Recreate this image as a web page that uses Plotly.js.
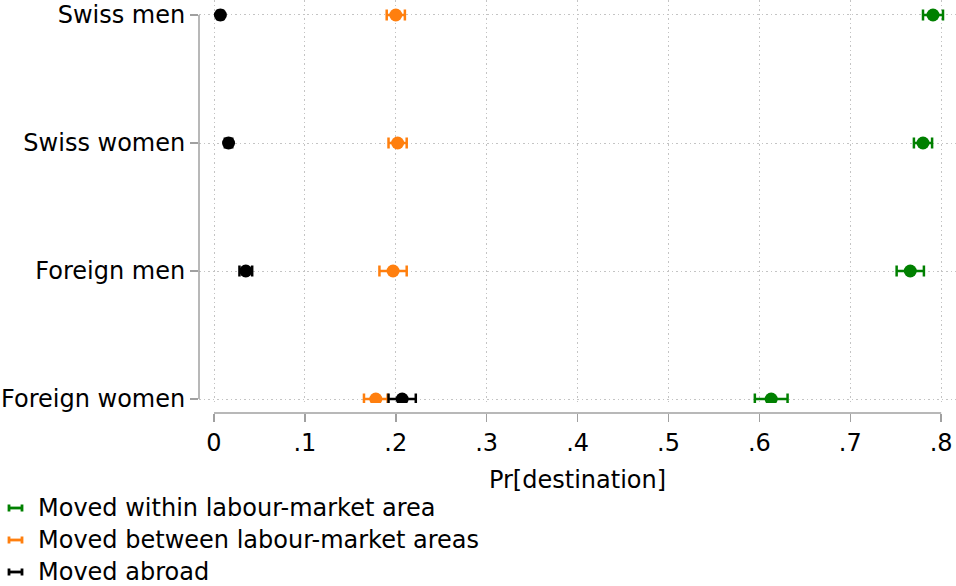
<!DOCTYPE html>
<html>
<head>
<meta charset="utf-8">
<script src="https://cdn.plot.ly/plotly-3.0.1.min.js"></script>
<style>
  html, body { margin: 0; padding: 0; background: #ffffff; }
  #chart { width: 956px; height: 586px; }
</style>
</head>
<body>
<div id="chart"></div>
<script>
// Groups, top to bottom
const groups = ['Swiss men', 'Swiss women', 'Foreign men', 'Foreign women'];

// Predicted probability of each destination, with half-width of the confidence interval
const withinMean  = [0.791, 0.780, 0.766, 0.613];
const withinErr   = [0.011, 0.010, 0.015, 0.018];
const betweenMean = [0.200, 0.202, 0.197, 0.178];
const betweenErr  = [0.010, 0.010, 0.015, 0.013];
const abroadMean  = [0.007, 0.016, 0.035, 0.207];
const abroadErr   = [0.003, 0.004, 0.007, 0.015];

// x-axis ticks
const xTickVals = [0, 0.1, 0.2, 0.3, 0.4, 0.5, 0.6, 0.7, 0.8];
const xTickText = ['0', '.1', '.2', '.3', '.4', '.5', '.6', '.7', '.8'];

// Series names and colours
const seriesNames = ['Moved within labour-market area', 'Moved between labour-market areas', 'Moved abroad'];
const seriesColors = ['#008000', '#ff7f0e', '#000000'];

const FONT = 'DejaVu Sans, Verdana, sans-serif';
const FSIZE = 24;
const AXIS_GREY = '#a0a0a0';
const GRID_GREY = '#c4c4c4';

// Page geometry (pixels) used to place the hand-built legend
const W = 956, H = 586;
const M = { l: 199, r: 0, t: 0, b: 173 };
const plotW = W - M.l - M.r, plotH = H - M.t - M.b;
const px2x = px => (px - M.l) / plotW;
const px2y = py => (M.t + plotH - py) / plotH;

function seriesTrace(means, errs, idx) {
  return {
    type: 'scatter',
    mode: 'markers',
    x: means,
    y: groups,
    name: seriesNames[idx],
    showlegend: false,
    marker: { color: seriesColors[idx], size: 13, line: { width: 0 } },
    error_x: {
      type: 'data', symmetric: true, array: errs,
      color: seriesColors[idx], thickness: 2.5, width: 5.5
    },
    hoverinfo: 'x+y+name'
  };
}

const traces = [
  seriesTrace(withinMean, withinErr, 0),
  seriesTrace(betweenMean, betweenErr, 1),
  seriesTrace(abroadMean, abroadErr, 2)
];

// Axis lines spanning only the tick range
const shapes = [
  { type: 'line', xref: 'x', yref: 'paper',
    x0: xTickVals[0], x1: xTickVals[xTickVals.length - 1], y0: 0, y1: 0,
    line: { color: AXIS_GREY, width: 1.5 } },
  { type: 'line', xref: 'paper', yref: 'y',
    x0: 0, x1: 0, y0: 0, y1: groups.length - 1,
    line: { color: AXIS_GREY, width: 1.5 } }
];

// Legend: small capped error-bar glyph plus label, one row per series
const annotations = [];
const legendRowY = [508, 540, 572];
seriesNames.forEach((nm, i) => {
  const cy = legendRowY[i];
  const col = seriesColors[i];
  const xl = 9, xr = 22, cap = 3.5;
  shapes.push({ type: 'line', xref: 'paper', yref: 'paper',
    x0: px2x(xl), x1: px2x(xr), y0: px2y(cy), y1: px2y(cy),
    line: { color: col, width: 2.8 } });
  shapes.push({ type: 'line', xref: 'paper', yref: 'paper',
    x0: px2x(xl), x1: px2x(xl), y0: px2y(cy - cap), y1: px2y(cy + cap),
    line: { color: col, width: 2.8 } });
  shapes.push({ type: 'line', xref: 'paper', yref: 'paper',
    x0: px2x(xr), x1: px2x(xr), y0: px2y(cy - cap), y1: px2y(cy + cap),
    line: { color: col, width: 2.8 } });
  annotations.push({
    xref: 'paper', yref: 'paper', x: px2x(36), y: px2y(cy),
    xanchor: 'left', yanchor: 'middle', showarrow: false,
    text: nm, font: { family: FONT, size: FSIZE, color: '#000000' }
  });
});

const layout = {
  width: W, height: H,
  margin: M,
  paper_bgcolor: '#ffffff',
  plot_bgcolor: '#ffffff',
  showlegend: false,
  font: { family: FONT, size: FSIZE, color: '#000000' },
  xaxis: {
    range: [-0.0165, 0.8163],
    anchor: 'free', position: 0,
    tickmode: 'array', tickvals: xTickVals, ticktext: xTickText,
    ticks: 'outside', ticklen: 8, tickwidth: 1.5, tickcolor: AXIS_GREY,
    showline: false, zeroline: false,
    showgrid: true, gridcolor: GRID_GREY, gridwidth: 1, griddash: '1.5px,3px',
    tickfont: { family: FONT, size: FSIZE, color: '#000000' },
    title: { text: 'Pr[destination]', font: { family: FONT, size: FSIZE, color: '#000000' }, standoff: 15 }
  },
  yaxis: {
    type: 'category',
    categoryorder: 'array', categoryarray: groups,
    range: [groups.length - 1 + 0.031, -0.117],
    domain: [0.0242, 1],
    ticks: 'outside', ticklen: 8, tickwidth: 1.5, tickcolor: AXIS_GREY,
    showline: false, zeroline: false,
    showgrid: true, gridcolor: GRID_GREY, gridwidth: 1, griddash: '1.5px,3px',
    tickfont: { family: FONT, size: FSIZE, color: '#000000' }
  },
  shapes: shapes,
  annotations: annotations
};

Plotly.newPlot('chart', traces, layout, { displayModeBar: false, staticPlot: true });
</script>
</body>
</html>
